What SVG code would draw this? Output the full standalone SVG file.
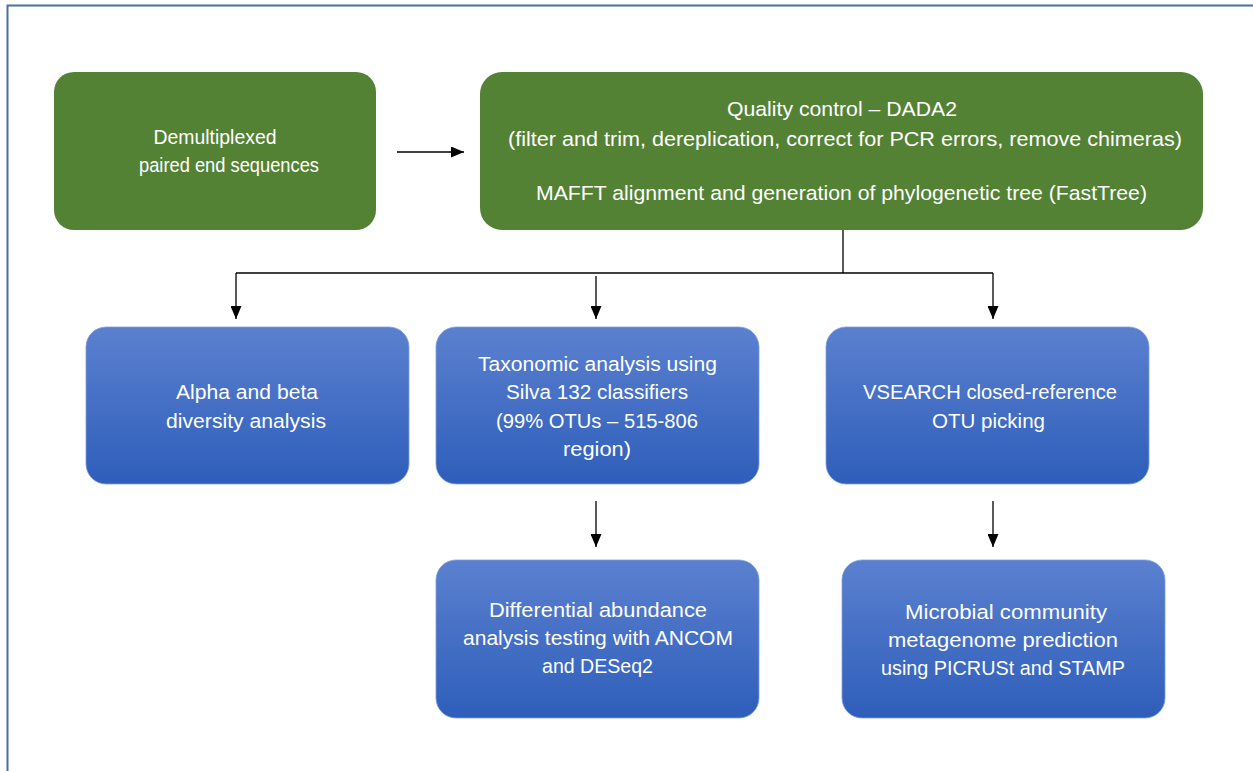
<svg xmlns="http://www.w3.org/2000/svg" width="1253" height="771" viewBox="0 0 1253 771">
<defs>
<linearGradient id="blueGrad" x1="0" y1="0" x2="0" y2="1">
<stop offset="0" stop-color="#5b80cf"/>
<stop offset="1" stop-color="#2e5eba"/>
</linearGradient>
<marker id="arrow" viewBox="0 0 13 11" refX="13" refY="5.5" markerWidth="13" markerHeight="11" markerUnits="userSpaceOnUse" orient="auto">
<path d="M0,0 L13,5.5 L0,11 Z" fill="#000"/>
</marker>
</defs>
<style>
.green{fill:#548235;}
.blue{fill:url(#blueGrad);stroke:#7f9fdc;stroke-width:0.8;}
.lbl{font-family:"Liberation Sans",Arial,sans-serif;font-size:20.5px;fill:#ffffff;text-anchor:middle;}
.conn{fill:none;stroke:#000;stroke-width:1.3;}
</style>
<rect x="0" y="0" width="1253" height="771" fill="#ffffff"/>
<rect x="7.5" y="5.5" width="1265" height="790" fill="none" stroke="#4a6fa0" stroke-width="2"/>

<g id="connectors">
<line class="conn" x1="397" y1="152" x2="464" y2="152" marker-end="url(#arrow)"/>
<polyline class="conn" points="843,230 843,273"/>
<line class="conn" x1="236" y1="273" x2="993" y2="273"/>
<line class="conn" x1="236" y1="273" x2="236" y2="319" marker-end="url(#arrow)"/>
<line class="conn" x1="596" y1="276" x2="596" y2="319" marker-end="url(#arrow)"/>
<line class="conn" x1="993" y1="273" x2="993" y2="319" marker-end="url(#arrow)"/>
<line class="conn" x1="596" y1="501" x2="596" y2="547" marker-end="url(#arrow)"/>
<line class="conn" x1="993" y1="501" x2="993" y2="547" marker-end="url(#arrow)"/>
</g>

<g id="node-demux">
<rect class="green" x="54" y="72" width="322" height="158" rx="20"/>
<text class="lbl" x="215" y="144" textLength="123" lengthAdjust="spacingAndGlyphs">Demultiplexed</text>
<text class="lbl" x="229" y="172" textLength="180" lengthAdjust="spacingAndGlyphs">paired end sequences</text>
</g>

<g id="node-qc">
<rect class="green" x="480" y="72" width="723" height="158" rx="22"/>
<text class="lbl" x="842" y="116" textLength="230" lengthAdjust="spacingAndGlyphs">Quality control – DADA2</text>
<text class="lbl" x="845" y="146" textLength="674" lengthAdjust="spacingAndGlyphs">(filter and trim, dereplication, correct for PCR errors, remove chimeras)</text>
<text class="lbl" x="841.5" y="200" textLength="611" lengthAdjust="spacingAndGlyphs">MAFFT alignment and generation of phylogenetic tree (FastTree)</text>
</g>

<g id="node-alpha">
<rect class="blue" x="86" y="327" width="323" height="157" rx="20"/>
<text class="lbl" x="247" y="399" textLength="142" lengthAdjust="spacingAndGlyphs">Alpha and beta</text>
<text class="lbl" x="246" y="428" textLength="160" lengthAdjust="spacingAndGlyphs">diversity analysis</text>
</g>

<g id="node-taxonomic">
<rect class="blue" x="436" y="327" width="323" height="157" rx="20"/>
<text class="lbl" x="597.5" y="371" textLength="239" lengthAdjust="spacingAndGlyphs">Taxonomic analysis using</text>
<text class="lbl" x="597" y="399" textLength="182" lengthAdjust="spacingAndGlyphs">Silva 132 classifiers</text>
<text class="lbl" x="597" y="428" textLength="202" lengthAdjust="spacingAndGlyphs">(99% OTUs – 515-806</text>
<text class="lbl" x="597" y="456" textLength="68" lengthAdjust="spacingAndGlyphs">region)</text>
</g>

<g id="node-vsearch">
<rect class="blue" x="826" y="327" width="323" height="157" rx="20"/>
<text class="lbl" x="990" y="399" textLength="254" lengthAdjust="spacingAndGlyphs">VSEARCH closed-reference</text>
<text class="lbl" x="988.5" y="428" textLength="113" lengthAdjust="spacingAndGlyphs">OTU picking</text>
</g>

<g id="node-differential">
<rect class="blue" x="436" y="560" width="323" height="158" rx="20"/>
<text class="lbl" x="598" y="617" textLength="218" lengthAdjust="spacingAndGlyphs">Differential abundance</text>
<text class="lbl" x="598" y="645" textLength="270" lengthAdjust="spacingAndGlyphs">analysis testing with ANCOM</text>
<text class="lbl" x="597.5" y="673" textLength="111" lengthAdjust="spacingAndGlyphs">and DESeq2</text>
</g>

<g id="node-microbial">
<rect class="blue" x="842" y="560" width="323" height="158" rx="20"/>
<text class="lbl" x="1006" y="619" textLength="202" lengthAdjust="spacingAndGlyphs">Microbial community</text>
<text class="lbl" x="1003" y="647" textLength="230" lengthAdjust="spacingAndGlyphs">metagenome prediction</text>
<text class="lbl" x="1003" y="675" textLength="244" lengthAdjust="spacingAndGlyphs">using PICRUSt and STAMP</text>
</g>
</svg>
